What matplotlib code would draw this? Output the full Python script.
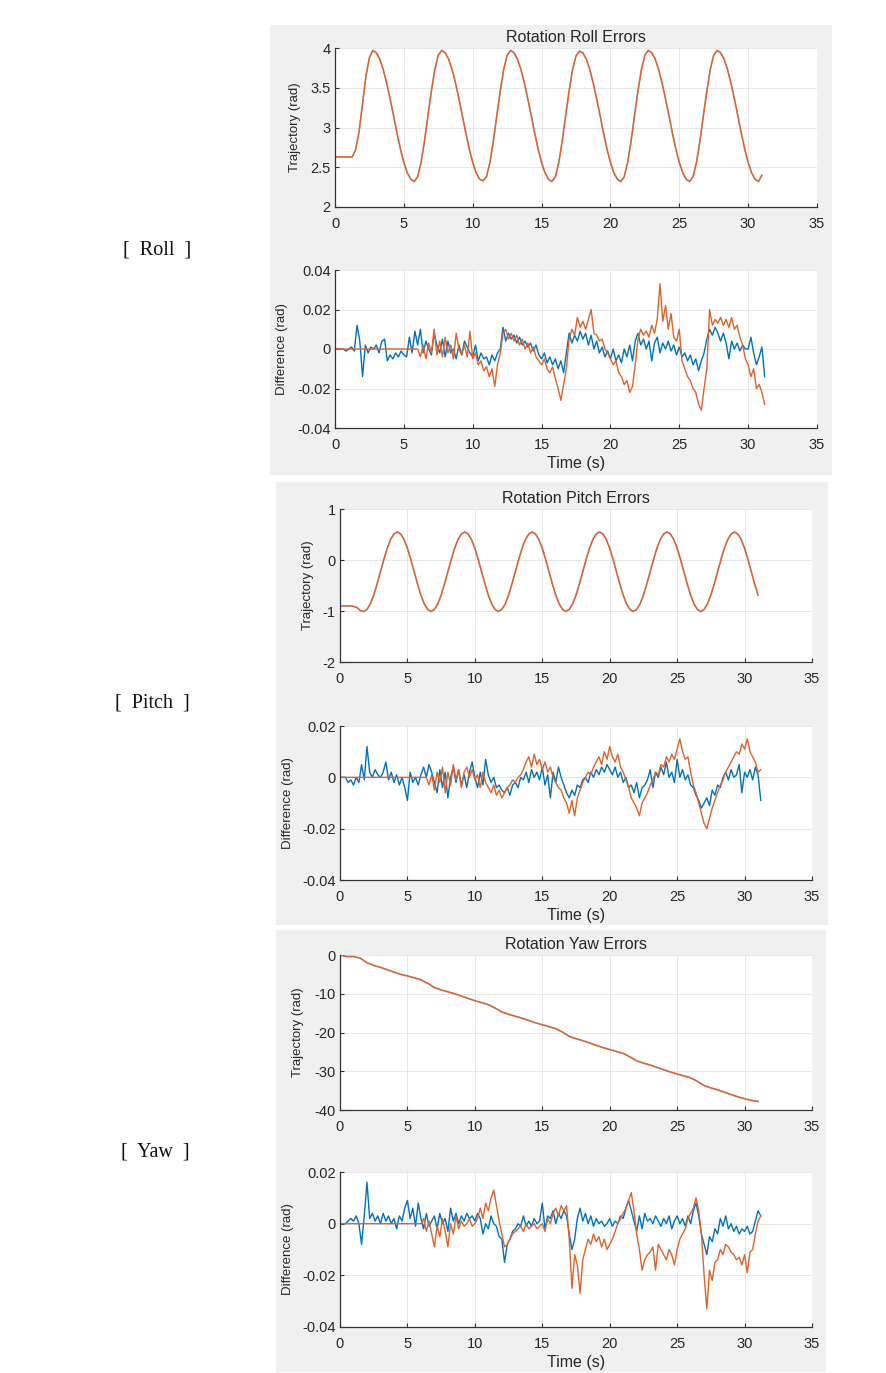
import numpy as np
import matplotlib.pyplot as plt
from matplotlib.patches import Rectangle
from matplotlib.ticker import FuncFormatter

# ---- data ----
# trajectories (rad), roll/pitch sampled every 0.25 s, yaw every 0.5 s
roll_traj = [2.63, 2.63, 2.63, 2.63, 2.63, 2.63, 2.72, 2.95, 3.30, 3.65, 3.88, 3.97,
             3.94, 3.86, 3.73, 3.56, 3.36, 3.15, 2.93, 2.73, 2.56, 2.43, 2.35, 2.32, 2.38, 2.56, 2.83, 3.15, 3.46, 3.73, 3.91, 3.97,
             3.94, 3.86, 3.73, 3.56, 3.36, 3.15, 2.93, 2.73, 2.56, 2.43, 2.35, 2.33, 2.38, 2.56, 2.83, 3.15, 3.46, 3.73, 3.91, 3.97,
             3.94, 3.86, 3.73, 3.56, 3.36, 3.15, 2.93, 2.73, 2.56, 2.43, 2.35, 2.32, 2.38, 2.56, 2.83, 3.15, 3.46, 3.73, 3.90, 3.96,
             3.94, 3.86, 3.73, 3.56, 3.36, 3.15, 2.93, 2.73, 2.56, 2.43, 2.35, 2.32, 2.38, 2.56, 2.83, 3.15, 3.46, 3.73, 3.91, 3.97,
             3.94, 3.86, 3.73, 3.56, 3.36, 3.15, 2.93, 2.73, 2.56, 2.43, 2.35, 2.32, 2.38, 2.56, 2.83, 3.15, 3.46, 3.73, 3.91, 3.97,
             3.94, 3.86, 3.73, 3.56, 3.36, 3.15, 2.93, 2.73, 2.56, 2.43, 2.35, 2.32, 2.40]
pitch_traj = [-0.90, -0.90, -0.90, -0.90, -0.91, -0.93, -0.99, -1.01,
              -0.97, -0.86, -0.69, -0.47, -0.23, 0.01, 0.23, 0.40, 0.51, 0.55, 0.51, 0.40, 0.23, 0.01, -0.23, -0.47, -0.69, -0.86, -0.97, -1.01,
              -0.97, -0.86, -0.69, -0.47, -0.23, 0.01, 0.23, 0.40, 0.51, 0.55, 0.51, 0.40, 0.23, 0.01, -0.23, -0.47, -0.69, -0.86, -0.97, -1.01,
              -0.97, -0.86, -0.69, -0.47, -0.23, 0.01, 0.23, 0.40, 0.51, 0.55, 0.51, 0.40, 0.23, 0.01, -0.23, -0.47, -0.69, -0.86, -0.97, -1.01,
              -0.97, -0.86, -0.69, -0.47, -0.23, 0.01, 0.23, 0.40, 0.51, 0.55, 0.51, 0.40, 0.23, 0.01, -0.23, -0.47, -0.69, -0.86, -0.97, -1.01,
              -0.97, -0.86, -0.69, -0.47, -0.23, 0.01, 0.23, 0.40, 0.51, 0.55, 0.51, 0.40, 0.23, 0.01, -0.23, -0.47, -0.69, -0.86, -0.97, -1.01,
              -0.97, -0.86, -0.69, -0.47, -0.23, 0.01, 0.23, 0.40, 0.51, 0.55, 0.51, 0.40, 0.23, 0.01, -0.23, -0.47, -0.69]
yaw_traj = [0.0, -0.4, -0.4, -0.8, -2.0, -2.7, -3.2, -3.8, -4.4, -5.0, -5.4, -5.9, -6.4, -7.3, -8.4,
            -9.0, -9.5, -10.0, -10.6, -11.2, -11.8, -12.3, -12.8, -13.7, -14.7, -15.3, -15.8, -16.3,
            -16.9, -17.5, -18.0, -18.5, -19.0, -19.9, -21.0, -21.6, -22.1, -22.7, -23.3, -23.9, -24.4,
            -24.9, -25.4, -26.3, -27.3, -27.9, -28.4, -29.0, -29.6, -30.2, -30.7, -31.2, -31.7, -32.6,
            -33.7, -34.3, -34.8, -35.4, -36.0, -36.6, -37.1, -37.5, -37.8]

# differences (mrad), sampled every 0.2 s; blue = first series, orange = second
roll_diff_a = [0, 0, 0, 0, -1, 0, 1, -1, 12, 4, -14, 2, -2, 1, 0, 2, -2, 4, 5, -6,
               -3, -5, -2, -4, -1, -3, -4, 6, -2, 9, 2, 10, -2, 4, 0, -3, 8, 2, -2, 5,
               -4, 4, -2, 0, -5, 2, -3, 4, 1, -2, -4, 2, -6, -2, -5, -4, -8, -3, -6, -2,
               0, 11, 4, 8, 5, 7, 3, 6, 2, 4, 1, 3, -1, 2, -3, -5, -2, -7, -4, -8,
               -5, -10, -6, -12, -2, 8, 3, 7, 4, 9, 5, 8, 2, 7, 0, 4, -2, 1, -4, -1,
               -5, 0, -6, -3, -7, 0, -4, 2, -6, 4, 8, 2, 5, 0, 4, -6, 3, 6, -2, 3,
               0, 4, -1, 2, -3, 1, -4, -2, -6, -3, -8, -5, -11, -6, -2, 5, 10, 7, 11, 8,
               4, 8, 3, -5, 4, 0, 3, -1, 2, 0, 0, 6, -2, -8, -4, 1, -14]
roll_diff_b = [0, 0, 0, 0, 0, 0, 0, 0, 0, 0, 0, 0, 0, 0, 0, 0, 0, 0, 0, 0,
               0, 0, 0, 0, 0, 0, 0, 0, 0, 0, 0, -4, 2, -5, 3, -2, 10, -3, 4, -4,
               6, -2, 2, -5, 8, 0, -3, 2, -4, 9, -5, -2, -8, -6, -11, -9, -14, -10, -19, -8,
               -2, 8, 10, 5, 8, 4, 7, 2, 5, 0, 3, -2, 1, -4, -6, -8, -5, -10, -12, -9,
               -15, -20, -26, -18, -10, 5, 10, 7, 16, 11, 14, 10, 15, 20, 8, 7, 4, 5, 0, -2,
               -5, -8, -6, -12, -14, -18, -16, -22, -19, -8, 5, 10, 7, 9, 6, 12, 8, 15, 33, 14,
               22, 10, 18, 6, 4, 10, -6, -10, -14, -16, -20, -22, -28, -31, -20, -10, 20, 12, 15, 13,
               16, 12, 15, 11, 16, 10, 12, 6, 2, -5, -8, -14, -10, -20, -18, -22, -28]
pitch_diff_a = [0, 0, 0, -2, -1, -3, 0, -2, 5, -1, 12, 2, 0, 3, 1, 0, 2, 6, -1, 2,
                -2, 1, -3, 0, -4, -9, 2, -2, 0, -3, 1, 4, 0, 5, 2, -2, -6, 3, -4, 2,
                -8, 0, 4, -2, 3, -3, 1, -4, 2, 6, 0, -4, 2, -3, 7, 1, -2, 0, -4, -3,
                -5, -6, -4, -7, -3, -2, -4, 0, -1, 2, -2, 3, 0, 2, -1, 4, -3, 1, -8, 2,
                -2, 4, 0, -3, -6, -8, -5, -7, -3, -4, -1, 0, -2, 2, 0, 3, 1, 4, 2, 5,
                3, 1, 4, 0, 2, -2, 0, -4, -3, -6, -2, -8, -4, -3, -1, 3, -4, 2, 0, 4,
                1, 6, 0, 2, -2, 7, 0, 3, -1, 1, -3, -4, -7, -9, -12, -10, -8, -11, -5, -7,
                -3, -4, 0, 2, -1, 3, 0, 1, 5, -6, 2, 0, 3, -1, 4, 1, -9]
pitch_diff_b = [0, 0, 0, 0, 0, 0, 0, 0, 0, 0, 0, 0, 0, 0, 0, 0, 0, 0, 0, 0,
                0, 0, 0, 0, 0, 0, 0, 0, 0, 0, 0, 0, 0, -3, 1, -5, 2, -2, 4, -6,
                2, -3, 5, -1, 3, -4, 2, 4, 0, 3, -1, 1, -4, 2, -2, -4, -6, -3, -7, -5,
                -8, -6, -4, -3, -1, -2, 0, 1, 3, 6, 8, 4, 9, 5, 7, 3, 6, 2, 4, 0,
                -2, -4, -5, -8, -10, -14, -9, -15, -8, -5, -2, 0, 2, 1, 4, 6, 8, 5, 10, 7,
                12, 8, 6, 9, 4, 2, -1, -4, -8, -10, -12, -15, -10, -8, -6, -3, -1, 2, 1, 5,
                4, 8, 6, 9, 7, 11, 15, 10, 7, 8, 2, -3, -6, -10, -14, -18, -20, -16, -12, -9,
                -6, -3, -1, 2, 4, 6, 8, 10, 9, 13, 11, 15, 10, 8, 6, 2, 3]
yaw_diff_a = [0, 0, 0, 1, 2, 1, 3, 0, -8, 3, 16, 2, 4, 1, 3, 0, 4, 1, 3, 0,
              2, -2, 3, 1, 6, 9, 2, 6, -1, 8, 2, -2, 4, -1, 1, 3, -2, 4, 0, 2,
              -3, 6, 1, 4, 0, 3, 1, 4, 2, 3, 1, 4, 2, -4, 0, -2, 3, 0, -1, -5,
              -6, -15, -8, -6, -3, -2, 0, -1, 3, -1, 1, -1, 2, 0, 1, 8, -2, 3, 2, 5,
              0, 4, 2, 5, 3, -4, -10, -6, 2, 6, 1, 4, 0, 3, -1, 2, 0, 1, -1, 0,
              2, -1, 1, 0, 3, 2, 6, 9, 5, 1, -3, 3, -2, 4, 1, 2, 0, 3, 1, -1,
              2, 0, 3, -2, 1, 3, 0, 2, -1, 3, 0, 5, 8, 3, -4, -8, -12, -5, -7, -2,
              -4, 2, -1, 3, -2, 0, -3, -1, -4, -2, -3, -1, -4, -3, 1, 5, 3]
yaw_diff_b = [0, 0, 0, 0, 0, 0, 0, 0, 0, 0, 0, 0, 0, 0, 0, 0, 0, 0, 0, 0,
              0, 0, 0, 0, 0, 0, 0, 0, 0, 0, 0, 2, -3, 1, -4, -9, -1, -5, 2, -3,
              -9, 0, -4, 3, -2, 1, -1, 0, 2, -1, 0, 2, 6, 2, 8, 5, 10, 13, 7, 1,
              -4, -9, -8, -6, -4, -3, -2, -1, -3, 0, -2, -1, 0, -2, -1, 0, -3, 2, 0, 4,
              6, 3, 7, 5, 7, -6, -25, -12, -16, -27, -14, -10, -6, -8, -4, -7, -5, -9, -6, -10,
              -8, -6, -3, 0, 2, 4, 6, 9, 12, 5, -4, -10, -18, -14, -12, -11, -9, -18, -8, -10,
              -12, -14, -10, -12, -16, -10, -6, -4, -2, 2, 4, 6, 10, 5, -4, -20, -33, -18, -22, -15,
              -14, -10, -12, -8, -9, -11, -12, -14, -13, -16, -12, -19, -11, -10, -4, 1, 3]

panel_names = ['Roll', 'Pitch', 'Yaw']
panel_titles = ['Rotation Roll Errors', 'Rotation Pitch Errors', 'Rotation Yaw Errors']

BLUE = '#0072BD'
ORANGE = '#E0622B'
TXT = '#262626'

W, H = 886, 1373
plt.rcParams['font.family'] = ['Liberation Sans', 'DejaVu Sans']
fig = plt.figure(figsize=(W / 100, H / 100), dpi=100)


def px_axes(x0, y0, x1, y1):
    return fig.add_axes([x0 / W, 1 - y1 / H, (x1 - x0) / W, (y1 - y0) / H])


def style(ax, ylim, ystep, ylabel, ylab_x, xlabel=False):
    ax.set_xlim(0, 35)
    ax.set_xticks(np.arange(0, 36, 5))
    ax.set_ylim(*ylim)
    ax.set_yticks(np.arange(ylim[0], ylim[1] + ystep / 2, ystep))
    ax.yaxis.set_major_formatter(FuncFormatter(lambda v, p: '%g' % round(v, 6)))
    ax.grid(True, color='#e3e3e3', lw=0.6)
    ax.set_axisbelow(True)
    for s in ['top', 'right']:
        ax.spines[s].set_visible(False)
    for s in ['left', 'bottom']:
        ax.spines[s].set_color('#333333')
        ax.spines[s].set_linewidth(0.9)
    ax.tick_params(direction='in', length=3, width=0.8, colors='#333333',
                   labelcolor=TXT, labelsize=10.5)
    ax.tick_params(axis='x', pad=7)
    ax.tick_params(axis='y', pad=3)
    ax.set_ylabel(ylabel, fontsize=9.5, color=TXT)
    ax.yaxis.set_label_coords(ylab_x, 0.5)
    if xlabel:
        ax.set_xlabel('Time (s)', fontsize=11.5, color=TXT)
        ax.xaxis.set_label_coords(0.5, -0.18)


# grey panel backgrounds
for (x0, y0, x1, y1) in [(270, 25, 832, 475), (276, 482, 828, 925), (276, 930, 826, 1372)]:
    fig.add_artist(Rectangle((x0 / W, 1 - y1 / H), (x1 - x0) / W, (y1 - y0) / H,
                             transform=fig.transFigure, facecolor='#f0f0f0',
                             edgecolor='none', zorder=-5))

trajs = [(roll_traj, 0.25), (pitch_traj, 0.25), (yaw_traj, 0.5)]
diffs = [(roll_diff_a, roll_diff_b), (pitch_diff_a, pitch_diff_b), (yaw_diff_a, yaw_diff_b)]
top_boxes = [(335, 48, 817, 207), (340, 509, 812, 662), (340, 955, 812, 1110)]
bot_boxes = [(335, 270, 817, 428), (340, 726, 812, 880), (340, 1172, 812, 1327)]
top_lims = [((2, 4), 0.5), ((-2, 1), 1), ((-40, 0), 10)]
bot_lims = [((-0.04, 0.04), 0.02), ((-0.04, 0.02), 0.02), ((-0.04, 0.02), 0.02)]
traj_lab_x = [-0.071, -0.055, -0.076]
diff_lab_x = [-0.098, -0.097, -0.097]
side_y = [250, 703, 1152]
side_x = [157, 152, 155]

for i in range(3):
    vals, dt = trajs[i]
    t = np.arange(len(vals)) * dt
    ax = px_axes(*top_boxes[i])
    ax.plot(t, vals, color='#555555', lw=1.2, alpha=0.45)
    ax.plot(t, vals, color=ORANGE, lw=1.0)
    style(ax, top_lims[i][0], top_lims[i][1], 'Trajectory (rad)', traj_lab_x[i])
    ax.set_title(panel_titles[i], fontsize=11.5, color=TXT, pad=4)

    a, b = diffs[i]
    ax2 = px_axes(*bot_boxes[i])
    ax2.plot(np.arange(len(a)) * 0.2, np.array(a) * 1e-3, color=BLUE, lw=1.0)
    ax2.plot(np.arange(len(b)) * 0.2, np.array(b) * 1e-3, color=ORANGE, lw=1.0)
    style(ax2, bot_lims[i][0], bot_lims[i][1], 'Difference (rad)', diff_lab_x[i], xlabel=True)

    fig.text(side_x[i] / W, 1 - side_y[i] / H, '[  %s  ]' % panel_names[i],
             family=['Liberation Serif', 'DejaVu Serif'], fontsize=14.5,
             ha='center', va='center', color='#111111')

fig.savefig('out.png', dpi=100)
